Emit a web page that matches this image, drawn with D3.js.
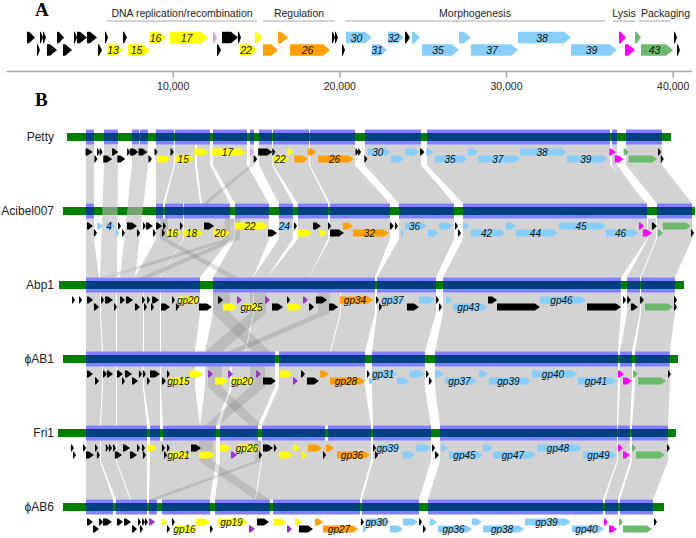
<!DOCTYPE html>
<html><head><meta charset="utf-8">
<script src="https://cdn.jsdelivr.net/npm/d3@7"></script>
<style>body{margin:0;background:#fff}svg{display:block;font-family:"Liberation Sans",Arial,sans-serif}</style>
</head><body>
<svg id="c" width="696" height="538"></svg>
<script>
// ---------------- DATA ----------------
// Panel A: functional modules (bp)
const moduleNames = ["DNA replication/recombination","Regulation","Morphogenesis","Lysis","Packaging"];
const moduleStart = [6060,15420,20340,36420,37980];
const moduleEnd   = [15060,19740,35940,37740,39840];
const axisTicks = [10000,20000,30000,40000];
const axisTickLabels = ["10,000","20,000","30,000","40,000"];
const axisDomain = [0,41160];

// Petty genes (bp): [start, end, row, class, label]
const pettyGenes = [
 [1260,1740,0,'k'],[2040,2160,0,'k'],[2220,2340,0,'k'],[3060,3480,0,'k'],[4080,4260,0,'k'],
 [4260,4860,0,'k'],[4860,5460,0,'k'],[5940,6120,0,'k'],[7020,7260,0,'k'],[8640,9600,0,'y','16'],
 [9840,12120,0,'y','17'],[12420,12660,0,'l'],[12960,13920,0,'k'],[13920,14040,0,'k'],[14940,15360,0,'y'],
 [16320,16920,0,'o'],[19560,19740,0,'k'],[19740,19920,0,'k'],[20400,21960,0,'b','30'],[22920,23880,0,'b','32'],
 [23940,24240,0,'k'],[24360,24840,0,'b'],[27180,27900,0,'b'],[30720,33900,0,'b','38'],[36780,37200,0,'m'],
 [37740,38100,0,'g'],[40080,40260,0,'k'],
 [1860,2040,1,'k'],[2460,3060,1,'k'],[3420,3960,1,'k'],[5520,5760,1,'k'],[6120,7020,1,'y','13'],
 [7320,8640,1,'y','15'],[12660,12900,1,'k'],[14040,15060,1,'y','22'],[15420,16320,1,'o'],[17040,19440,1,'o','26'],
 [20160,20340,1,'k'],[21960,22860,1,'b','31'],[24960,27180,1,'b','35'],[27900,30720,1,'b','37'],
 [33900,36660,1,'b','39'],[37140,37740,1,'m'],[38100,40020,1,'g','43'],[40260,40440,1,'k']
];
const pettyLabelsB = ['15','17','22','26','30','35','37','38','39'];

// Panel B genomes (kb)
const genomeNames = ["Petty","Acibel007","Abp1","\u03D5AB1","Fri1","\u03D5AB6"];
const genomeLengths = [40.95,42.85,42.38,41.70,41.90,40.75];
const genomeOffsets = [4.54,4.27,4.00,4.27,3.93,4.27];

const acibelGenes = [
 [1.63,2.03,0,'k'],[2.31,2.71,0,'b'],[2.92,3.53,0,'b','4'],[3.73,3.93,0,'k'],[4.34,5.02,0,'k'],
 [5.42,5.56,0,'k'],[5.63,6.10,0,'k'],[6.31,6.71,0,'k'],[6.78,6.98,0,'k'],[7.93,8.14,0,'k'],
 [9.56,10.24,0,'k'],[11.66,13.90,0,'y','22'],[14.64,15.59,0,'b','24'],[15.66,15.87,0,'k'],[16.95,17.49,0,'k'],
 [17.97,18.10,0,'k'],[18.98,19.66,0,'o'],[22.17,22.44,0,'k'],[22.51,22.71,0,'k'],[23.19,24.68,0,'b','36'],
 [25.49,26.44,0,'b'],[26.58,26.71,0,'k'],[27.12,27.59,0,'b'],[30.04,30.71,0,'b'],[33.63,36.82,0,'b','45'],
 [39.05,39.39,0,'m'],[39.93,40.27,0,'k'],[40.68,42.58,0,'g'],
 [2.10,2.31,1,'k'],[3.59,3.66,1,'b'],[4.00,4.07,1,'k'],[5.02,5.22,1,'k'],[6.10,6.24,1,'k'],
 [6.71,6.85,1,'k'],[7.05,8.00,1,'y','16'],[8.14,9.49,1,'y','18'],[10.17,11.32,1,'y','20'],[13.90,14.51,1,'k'],
 [15.93,16.88,1,'y'],[17.42,17.90,1,'y'],[18.10,19.05,1,'k'],[19.66,22.10,1,'o','32'],[22.92,23.12,1,'b'],
 [24.75,25.49,1,'b'],[26.78,26.98,1,'k'],[27.66,29.97,1,'b','42'],[30.71,33.56,1,'b','44'],[36.82,38.99,1,'b','46'],
 [39.32,39.93,1,'m'],[40.34,40.68,1,'g'],[42.58,42.71,1,'k']
];
const abp1Genes = [
 [0.88,0.95,0,'k'],[1.36,1.56,0,'k'],[1.90,2.31,0,'k'],[2.85,2.98,0,'k'],[3.12,3.66,0,'k'],
 [4.14,4.47,0,'k'],[4.54,5.02,0,'k'],[5.63,5.70,0,'k'],[5.97,6.03,0,'k'],[6.31,6.78,0,'k'],
 [7.66,7.80,0,'k'],[8.14,9.56,0,'y','gp20'],[10.78,11.12,0,'k'],[12.07,12.41,0,'p'],[13.97,14.31,0,'p'],
 [15.46,15.53,0,'k'],[16.54,16.88,0,'p'],[17.42,18.17,0,'k'],[19.05,21.29,0,'o','gp34'],[21.49,21.63,0,'k'],
 [21.97,23.46,0,'b','gp37'],[24.41,25.49,0,'b'],[25.56,25.70,0,'k'],[26.24,26.71,0,'b'],[29.09,29.70,0,'k'],
 [32.61,35.73,0,'b','gp46'],[38.24,38.37,0,'k'],[38.51,38.78,0,'k'],[39.39,39.66,0,'k'],[41.70,41.83,0,'k'],
 [2.37,2.71,1,'k'],[3.73,3.93,1,'k'],[5.15,5.49,1,'k'],[5.76,5.97,1,'k'],[6.24,6.37,1,'k'],
 [6.92,7.53,1,'k'],[7.93,8.07,1,'k'],[9.49,10.37,1,'k'],[11.12,12.07,1,'y'],[12.48,13.83,1,'y','gp25'],
 [14.44,15.19,1,'k'],[15.46,16.48,1,'y'],[16.95,17.29,1,'k'],[18.31,18.92,1,'k'],[21.70,21.90,1,'k'],
 [23.59,24.41,1,'k'],[25.76,25.97,1,'k'],[26.71,29.02,1,'b','gp43'],[29.70,32.61,1,'k'],[35.80,38.10,1,'k'],
 [38.78,39.26,1,'k'],[39.73,41.63,1,'g'],[41.70,41.90,1,'k']
];
const phiAB1Genes = [
 [1.63,2.03,0,'k'],[2.71,2.98,0,'k'],[2.98,3.39,0,'k'],[3.66,4.07,0,'k'],[4.20,4.68,0,'k'],
 [5.15,5.29,0,'k'],[5.42,5.56,0,'k'],[5.90,6.58,0,'k'],[7.05,7.12,0,'k'],[8.61,9.49,0,'y'],
 [9.83,10.17,0,'p'],[11.19,11.53,0,'p'],[13.09,13.42,0,'p'],[14.71,15.59,0,'y'],[16.14,16.41,0,'k'],
 [17.42,18.03,0,'o'],[20.61,20.81,0,'k'],[20.95,22.65,0,'b','gp31'],[23.53,24.54,0,'b'],[24.61,24.75,0,'k'],
 [25.22,25.83,0,'b'],[28.20,28.82,0,'b'],[31.80,34.85,0,'b','gp40'],[37.63,38.04,0,'m'],[38.65,38.99,0,'g'],
 [41.02,41.22,0,'k'],
 [2.17,2.44,1,'k'],[4.00,4.14,1,'k'],[4.68,5.09,1,'k'],[5.70,5.83,1,'k'],[6.71,6.98,1,'k'],
 [7.25,8.61,1,'y','gp15'],[10.31,11.19,1,'y'],[11.46,13.02,1,'y','gp20'],[13.56,14.44,1,'k'],[15.59,15.93,1,'p'],
 [16.54,17.36,1,'k'],[18.10,20.48,1,'o','gp28'],[20.75,21.02,1,'b'],[22.65,23.46,1,'b'],[24.81,25.02,1,'k'],
 [25.90,28.07,1,'b','gp37'],[28.88,31.73,1,'b','gp39'],[34.92,37.56,1,'b','gp41'],[37.97,38.58,1,'m'],[38.99,40.88,1,'g']
];
const fri1Genes = [
 [0.88,0.95,0,'k'],[1.70,1.83,0,'k'],[2.51,2.64,0,'k'],[3.25,3.32,0,'k'],[3.46,3.59,0,'k'],
 [3.73,3.86,0,'k'],[4.41,4.88,0,'k'],[5.36,5.49,0,'k'],[5.70,5.83,0,'k'],[6.10,6.71,0,'y'],
 [7.05,7.12,0,'k'],[7.39,7.59,0,'k'],[9.02,9.70,0,'k'],[10.98,11.73,0,'y'],[12.20,13.63,0,'y','gp26'],
 [13.90,14.58,0,'k'],[14.64,14.78,0,'k'],[15.93,16.41,0,'y'],[16.95,17.90,0,'o'],[18.17,18.71,0,'o'],
 [21.36,21.56,0,'k'],[21.70,23.19,0,'b','gp39'],[24.27,25.29,0,'b'],[25.36,25.49,0,'k'],[25.97,26.44,0,'b'],
 [28.82,29.49,0,'b'],[32.48,35.53,0,'b','gp48'],[37.97,38.31,0,'m'],[38.92,39.19,0,'g'],[41.29,41.43,0,'k'],
 [1.02,1.08,1,'k'],[1.90,2.44,1,'k'],[2.64,2.85,1,'k'],[3.86,4.34,1,'k'],[4.88,5.36,1,'k'],
 [5.76,5.90,1,'k'],[7.19,7.39,1,'k'],[7.59,8.95,1,'y','gp21'],[9.56,10.64,1,'y'],[11.73,12.14,1,'p'],
 [13.63,13.76,1,'k'],[14.98,15.93,1,'y'],[16.54,16.88,1,'y'],[17.97,18.10,1,'k'],[18.92,21.15,1,'o','gp36'],
 [21.49,21.70,1,'k'],[23.39,24.20,1,'b'],[25.56,25.83,1,'k'],[26.51,28.82,1,'b','gp45'],[29.49,32.41,1,'b','gp47'],
 [35.60,37.90,1,'b','gp49'],[38.31,38.78,1,'m'],[39.19,41.15,1,'g']
];
const phiAB6Genes = [
 [1.63,2.03,0,'k'],[2.44,2.71,0,'k'],[2.71,3.32,0,'k'],[3.66,4.07,0,'k'],[4.14,4.61,0,'k'],
 [5.09,5.22,0,'k'],[5.36,5.49,0,'k'],[5.56,5.70,0,'k'],[5.83,6.24,0,'p'],[6.71,7.05,0,'y'],
 [7.39,7.53,0,'k'],[9.02,9.97,0,'y'],[10.51,12.54,0,'y','gp19'],[13.15,13.97,0,'k'],[14.24,15.12,0,'y'],
 [15.73,16.20,0,'y'],[17.09,17.63,0,'o'],[20.20,20.34,0,'k'],[20.54,22.17,0,'b','gp30'],[23.05,24.07,0,'b'],
 [24.14,24.34,0,'k'],[24.88,25.36,0,'b'],[27.73,28.41,0,'b'],[31.32,34.44,0,'b','gp39'],[36.68,36.95,0,'m'],
 [37.70,37.97,0,'g'],[40.07,40.27,0,'k'],
 [2.03,2.44,1,'k'],[4.68,5.02,1,'k'],[5.22,5.36,1,'k'],[7.05,7.25,1,'k'],[7.59,9.09,1,'y','gp16'],
 [9.97,10.03,1,'k'],[12.61,13.02,1,'p'],[15.19,15.53,1,'p'],[16.00,16.95,1,'k'],[17.63,20.00,1,'o','gp27'],
 [20.34,20.61,1,'b'],[22.17,23.05,1,'b'],[24.41,24.61,1,'k'],[25.43,27.73,1,'b','gp36'],[28.48,31.26,1,'b','gp38'],
 [34.51,36.68,1,'b','gp40'],[37.02,37.56,1,'m'],[37.97,39.93,1,'g']
];

// BLAST hit blocks on each genome (kb)
const pettyBlocks = [[1.29,1.83],[2.51,3.46],[4.41,4.88],[4.95,5.49],[6.03,7.25],[7.32,9.70],[9.90,12.20],[12.41,12.68],[13.02,13.90],[13.97,14.98],[14.98,16.41],[16.48,19.53],[20.20,24.00],[24.41,36.82],[36.95,37.29],[37.90,40.34]];
const acibelBlocks = [[1.56,2.10],[6.31,6.78],[6.92,8.14],[8.20,11.32],[11.66,13.97],[14.64,15.59],[15.93,17.97],[18.10,22.17],[22.78,26.51],[27.12,39.60],[40.27,42.65]];
const abp1Blocks = [[1.83,9.56],[10.44,21.42],[21.56,25.56],[26.04,38.10],[38.51,39.39],[39.46,41.76]];
const phiAB1Blocks = [[1.56,8.95],[8.95,9.63],[9.63,14.37],[14.64,20.48],[20.95,24.54],[25.22,37.63],[37.76,38.58],[38.78,41.15]];
const fri1Blocks = [[1.90,6.03],[6.24,6.92],[7.12,10.71],[10.98,13.56],[13.83,18.10],[18.31,21.22],[21.36,25.29],[25.90,37.90],[37.97,38.78],[38.92,41.36]];
const phiAB6Blocks = [[1.56,3.39],[3.59,5.70],[5.83,6.37],[6.71,9.97],[10.31,14.03],[14.24,20.14],[20.27,24.14],[24.75,36.61],[36.75,37.63],[37.76,40.00]];

// Links between neighbouring genomes: [upperStart, upperEnd, lowerStart, lowerEnd] (kb)
const linksPettyAcibel = [[1.29,1.83,1.56,2.10],[6.03,7.25,6.31,6.78],[7.32,8.68,6.92,9.29],[8.81,9.70,9.42,11.32],[9.90,12.20,11.66,13.97],[13.02,13.90,14.64,15.59],[13.97,16.41,15.93,17.97],[16.48,19.53,18.10,22.17],[20.20,24.00,22.78,26.51],[24.41,36.82,27.12,39.60],[36.95,37.29,39.12,39.46],[37.90,40.34,40.27,42.65]];
const linksAcibelAbp1 = [[1.56,2.10,1.83,2.71],[6.31,8.14,5.15,6.85],[8.20,11.32,6.85,9.56],[11.66,13.97,10.44,13.15],[14.64,15.59,13.15,14.10],[15.93,17.97,14.10,16.95],[18.10,22.17,16.95,21.42],[22.78,26.51,21.56,25.56],[27.12,39.60,26.04,38.10],[39.66,40.20,38.51,39.39],[40.27,42.65,39.46,41.76]];
const linksAbp1PhiAB1 = [[1.83,2.78,1.56,2.64],[2.85,3.86,2.71,3.59],[3.93,5.70,3.66,5.42],[5.76,6.85,5.49,6.58],[6.92,9.56,6.64,8.95],[10.44,13.15,9.63,12.34],[13.22,19.05,12.41,18.10],[19.12,21.42,18.17,20.48],[21.56,25.56,20.95,24.54],[26.04,38.10,25.22,37.63],[38.51,39.39,37.76,38.58],[39.46,41.76,38.78,41.15]];
const linksPhiAB1Fri1 = [[1.56,2.64,1.90,2.85],[2.71,3.59,2.92,3.93],[3.66,5.42,4.00,6.03],[5.49,6.58,6.24,6.92],[6.64,8.95,7.12,9.63],[9.63,11.32,9.63,10.71],[11.46,14.37,10.98,13.56],[14.64,20.48,13.83,21.22],[20.95,24.54,21.36,25.29],[25.22,37.63,25.90,37.90],[37.76,38.58,37.97,38.78],[38.78,41.15,38.92,41.36]];
const linksFri1PhiAB6 = [[1.90,2.85,1.56,3.39],[2.92,3.93,3.59,4.54],[4.00,6.03,4.61,5.70],[6.24,10.71,5.83,9.97],[10.98,13.76,10.31,13.02],[13.83,21.22,13.09,20.14],[21.36,25.29,20.27,24.14],[25.90,37.90,24.75,36.61],[37.97,38.78,36.75,37.63],[38.92,41.36,37.76,40.00]];
// rearranged (crossing) hits
const crossPettyAcibel = [[12.41,12.68,9.49,9.83]];
const crossAcibelAbp1 = [[10.98,11.60,2.78,3.60],[11.32,12.00,5.49,6.17],[6.58,7.12,11.46,12.14]];
const crossAbp1PhiAB1 = [[10.44,11.60,12.88,14.03],[12.95,14.03,9.63,10.78],[17.56,18.37,11.19,12.00]];
const crossPhiAB1Fri1 = [[9.83,10.78,13.02,13.83],[12.68,13.70,9.97,10.85]];
const crossFri1PhiAB6 = [[13.36,13.83,5.83,6.37],[9.56,10.50,13.00,14.00]];
// hits from Petty straight to Abp1 (region absent from Acibel007)
const linksPettyAbp1 = [[2.51,3.46,2.78,3.93],[4.41,5.49,4.14,5.15]];

// ---------------- DRAWING ----------------
const svg = d3.select('#c');
const colors = {k:'#000000', y:'#ffff00', o:'#ffa000', b:'#87cefa', m:'#ff00ff', g:'#6cbb6c', p:'#9933cc', l:'#dda0dd'};

function arrow(x0, x1, yc, h, hm, minW) {
  const w = Math.max(x1 - x0, minW);
  const hd = Math.min(hm, w * 0.75);
  const xe = x0 + w;
  return `M${x0},${yc-h/2}L${xe-hd},${yc-h/2}L${xe},${yc}L${xe-hd},${yc+h/2}L${x0},${yc+h/2}Z`;
}

// ---- Panel A ----
const xA = d3.scaleLinear().domain(axisDomain).range([6, 692]);
svg.append('text').attr('x', 35).attr('y', 16).text('A')
  .attr('font-family', '"Liberation Serif","Times New Roman",serif').attr('font-weight', 'bold').attr('font-size', 19);

const mods = svg.append('g');
moduleNames.forEach((n, i) => {
  const a = xA(moduleStart[i]), b = xA(moduleEnd[i]);
  mods.append('line').attr('x1', a).attr('x2', b)
    .attr('y1', 21).attr('y2', 21).attr('stroke', '#c4c4c4').attr('stroke-width', 1.5);
  const last = i === moduleNames.length - 1;
  mods.append('text').attr('x', last ? a + 2 : (a + b) / 2).attr('y', 17)
    .attr('text-anchor', last ? 'start' : 'middle').attr('font-size', 10.5).attr('fill', '#222').text(n);
});

const axisG = svg.append('g').attr('transform', 'translate(0,71)');
axisG.call(d3.axisBottom(xA).tickValues(axisTicks).tickFormat((d, i) => axisTickLabels[i]).tickSize(7).tickSizeOuter(0));
axisG.select('.domain').attr('stroke', '#aaa').attr('stroke-width', 1.5);
axisG.selectAll('.tick line').attr('stroke', '#aaa').attr('stroke-width', 1.5);
axisG.selectAll('.tick text').attr('font-size', 10.5).attr('fill', '#222').attr('font-family', '"Liberation Sans",Arial,sans-serif').attr('dy', '0.9em');

const rowYA = [37.5, 50];
const gA = svg.append('g');
gA.selectAll('path').data(pettyGenes).join('path')
  .attr('d', d => arrow(xA(d[0]), xA(d[1]), rowYA[d[2]], 11.5, 7, 3))
  .attr('fill', d => colors[d[3]]);
gA.selectAll('text').data(pettyGenes.filter(d => d[4])).join('text')
  .attr('x', d => (xA(d[0]) + xA(d[1])) / 2 - 2.5).attr('y', d => rowYA[d[2]] + 4)
  .attr('text-anchor', 'middle').attr('font-style', 'italic').attr('font-size', 10.5).attr('fill', '#111').text(d => d[4]);

// ---- Panel B ----
svg.append('text').attr('x', 35).attr('y', 106).text('B')
  .attr('font-family', '"Liberation Serif","Times New Roman",serif').attr('font-weight', 'bold').attr('font-size', 19);

const xB = d3.scaleLinear().domain([0, 47.19]).range([0, 696]);
const yG = i => 137 + i * 74;
const pettyB = pettyGenes.map(d => [d[0] / 1000, d[1] / 1000, d[2], d[3], pettyLabelsB.includes(d[4]) ? d[4] : undefined]);
const geneSets = [pettyB, acibelGenes, abp1Genes, phiAB1Genes, fri1Genes, phiAB6Genes];
const blockSets = [pettyBlocks, acibelBlocks, abp1Blocks, phiAB1Blocks, fri1Blocks, phiAB6Blocks];
const linkSets = [linksPettyAcibel, linksAcibelAbp1, linksAbp1PhiAB1, linksPhiAB1Fri1, linksFri1PhiAB6];
const crossSets = [crossPettyAcibel, crossAcibelAbp1, crossAbp1PhiAB1, crossPhiAB1Fri1, crossFri1PhiAB6];
const gx = (i, kb) => xB(genomeOffsets[i] + kb);

function ribbon(iA, iB, d) {
  const y0 = yG(iA) + 7.5, y1 = yG(iA) + 28, y2 = yG(iB) - 7.5;
  const a0 = gx(iA, d[0]), a1 = gx(iA, d[1]), b0 = gx(iB, d[2]), b1 = gx(iB, d[3]);
  return `M${a0},${y0}L${a1},${y0}L${a1},${y1}L${b1},${y2}L${b0},${y2}L${a0},${y1}Z`;
}

const gL = svg.append('g');
linkSets.forEach((ls, i) => {
  gL.append('g').selectAll('path').data(ls).join('path')
    .attr('d', d => ribbon(i, i + 1, d)).attr('fill', '#d3d3d3');
});
const gC = svg.append('g');
crossSets.forEach((ls, i) => {
  gC.append('g').selectAll('path').data(ls).join('path')
    .attr('d', d => ribbon(i, i + 1, d)).attr('fill', '#6e6e6e').attr('fill-opacity', 0.22);
});

// genome bars
const gBars = svg.append('g');
genomeNames.forEach((n, i) => {
  gBars.append('rect').attr('x', gx(i, 0)).attr('width', xB(genomeLengths[i]) - xB(0))
    .attr('y', yG(i) - 4).attr('height', 8).attr('fill', '#008000');
  gBars.append('g').selectAll('rect').data(blockSets[i]).join('rect')
    .attr('x', d => gx(i, d[0])).attr('width', d => gx(i, d[1]) - gx(i, d[0]))
    .attr('y', yG(i) - 7.5).attr('height', 15).attr('fill', '#0000ff').attr('fill-opacity', 0.5);
  gBars.append('text').attr('x', 54).attr('y', yG(i)).attr('dy', '0.35em')
    .attr('text-anchor', 'end').attr('font-size', 12).attr('fill', '#222').text(n);
});

// Petty -> Abp1 direct hits, drawn across the Acibel007 bar
svg.append('g').selectAll('path').data(linksPettyAbp1).join('path')
  .attr('d', d => ribbon(0, 2, d)).attr('fill', '#bdbdbd').attr('fill-opacity', 0.6);

// genes
const gGenes = svg.append('g');
geneSets.forEach((gs, i) => {
  const rows = [yG(i) + 15, yG(i) + 22];
  const g = gGenes.append('g');
  g.selectAll('path').data(gs).join('path')
    .attr('d', d => arrow(gx(i, d[0]), gx(i, d[1]), rows[d[2]], 7, 5, 3))
    .attr('fill', d => colors[d[3]]);
  g.selectAll('text').data(gs.filter(d => d[4])).join('text')
    .attr('x', d => (gx(i, d[0]) + gx(i, d[1])) / 2 - 1.5).attr('y', d => rows[d[2]] + 3.5)
    .attr('text-anchor', 'middle').attr('font-style', 'italic').attr('font-size', 10).attr('fill', '#111').text(d => d[4]);
});
</script>
</body></html>
